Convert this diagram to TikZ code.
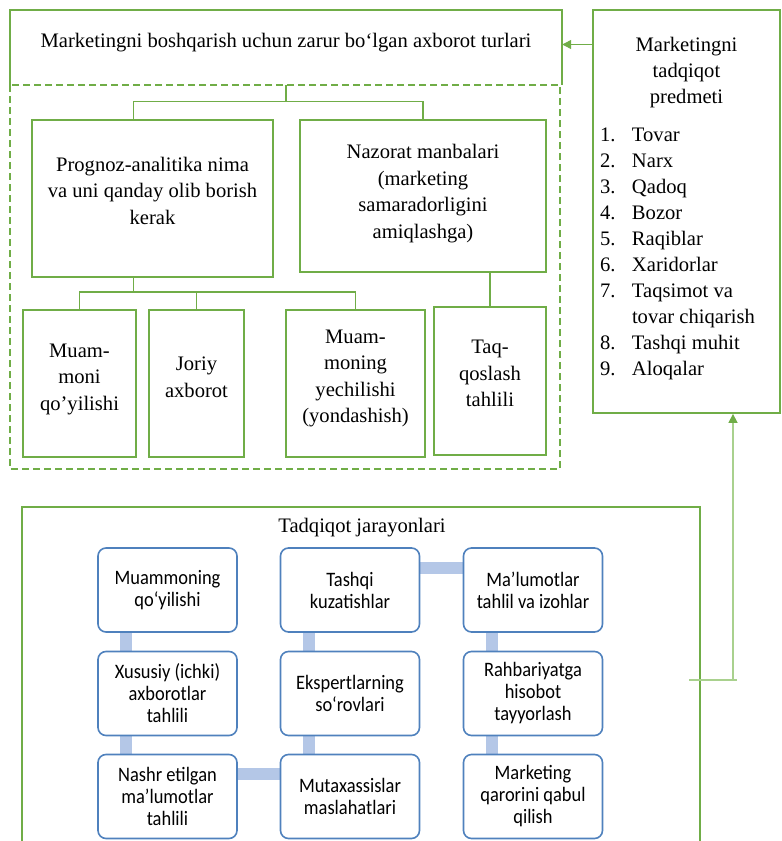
\documentclass[tikz,border=0pt]{standalone}
\usepackage{fontspec}
\setmainfont{Liberation Serif}
\newfontfamily\serfont{Liberation Serif}
\newfontfamily\calfont[FakeStretch=0.9]{Carlito}
\usetikzlibrary{arrows.meta,calc}
\pgfdeclarelayer{bg}
\pgfsetlayers{bg,main}
\definecolor{gr}{HTML}{70AD47}
\definecolor{lgr}{HTML}{A9D18E}
\definecolor{bb}{HTML}{4F81BD}
\definecolor{lb}{HTML}{B4C7E7}
\newcommand\upby[2]{\raisebox{#1}[\height][\depth]{\begin{tabular}{@{}c@{}}#2\end{tabular}}}
\begin{document}
\begin{tikzpicture}[x=1pt,y=-1pt,
  gbox/.style={draw=gr, line width=1.8pt, inner sep=0pt, fill=white},
  tfont/.style={font=\serfont\fontsize{20.6}{26.5}\selectfont},
  bbox/.style={draw=bb, line width=1.6pt, rounded corners=8pt, minimum width=139pt, minimum height=84pt, inner sep=0pt, align=center, font=\calfont\fontsize{20.5}{22}\selectfont, fill=white},
  gline/.style={draw=gr, line width=1.2pt},
  bline/.style={draw=lb, line width=12pt},
]
\useasboundingbox (0,0) rectangle (782,841);

% top box
\node[tfont, inner sep=0pt, minimum width=552pt, minimum height=75pt] (top) at (286,47.5) {\upby{5pt}{Marketingni boshqarish uchun zarur bo‘lgan axborot turlari}};
\draw[gr, line width=1.8pt] (top.south west) |- (top.north east) -- (top.south east);
\draw[gr, line width=1.8pt, dash pattern=on 7pt off 4pt] (10,85) rectangle (560,469);

% second level
\node[gbox, tfont, minimum width=241pt, minimum height=157pt] (prog) at (152.5,198.5) {\upby{6pt}{Prognoz-analitika nima\\va uni qanday olib borish\\kerak}};
\node[gbox, tfont, minimum width=246pt, minimum height=152pt] (naz) at (423,196) {\upby{3pt}{Nazorat manbalari\\(marketing\\samaradorligini\\amiqlashga)}};

% third level
\node[gbox, tfont, minimum width=113pt, minimum height=147pt] (b1) at (79.5,383.5) {\upby{5pt}{Muam-\\moni\\qo’yilishi}};
\node[gbox, tfont, minimum width=95pt, minimum height=147pt] (b2) at (196.5,383.5) {\upby{5pt}{Joriy\\axborot}};
\node[gbox, tfont, minimum width=139pt, minimum height=147pt] (b3) at (355.5,383.5) {\upby{6pt}{Muam-\\moning\\yechilishi\\(yondashish)}};
\node[gbox, tfont, minimum width=112pt, minimum height=148pt] (b4) at (490,381) {\upby{6pt}{Taq-\\qoslash\\tahlili}};

% connectors
\coordinate (pj) at ($(prog.north west)+(102,0)$);
\draw[gline] (top.south) -- ++(0,16) coordinate (j1) -| (pj);
\draw[gline] (j1) -| (naz.north);
\coordinate (pb) at ($(prog.south west)+(102,0)$);
\draw[gline] (pb) -- ++(0,14) coordinate (j2) -| (b1.north);
\draw[gline] (j2) -| (b2.north);
\draw[gline] (j2) -| (b3.north);
\draw[gline] (naz.south -| b4.north) -- (b4.north);

% right box
\node[gbox, minimum width=187pt, minimum height=403pt, font=\serfont\fontsize{20.6}{26}\selectfont] (pred) at (686.5,211.5) {\raisebox{3pt}[\height][\depth]{\begin{minipage}{173pt}
\centering Marketingni\\tadqiqot\\predmeti\par
\vspace{12pt}
\raggedright
\makebox[32pt][l]{1.}Tovar\\
\makebox[32pt][l]{2.}Narx\\
\makebox[32pt][l]{3.}Qadoq\\
\makebox[32pt][l]{4.}Bozor\\
\makebox[32pt][l]{5.}Raqiblar\\
\makebox[32pt][l]{6.}Xaridorlar\\
\makebox[32pt][l]{7.}Taqsimot va\\
\hspace*{32pt}tovar chiqarish\\
\makebox[32pt][l]{8.}Tashqi muhit\\
\makebox[32pt][l]{9.}Aloqalar
\end{minipage}}};

\coordinate (ar) at ($(top.east)+(0,-3)$);
\draw[gr, line width=1.2pt, -{Triangle[length=9pt,width=9pt]}] (pred.west |- ar) -- (ar);

% bottom frame
\draw[gr, line width=1.8pt] (22,845) |- (700,507) -- (700,845);
\node[tfont] (proc) at (362,528) {Tadqiqot jarayonlari};

% process boxes
\node[bbox] (a1) at (167.5,590) {Muammoning\\qo‘yilishi};
\node[bbox] (a2) at (167.5,693.5) {Xususiy (ichki)\\axborotlar\\tahlili};
\node[bbox] (a3) at (167.5,796.5) {Nashr etilgan\\ma’lumotlar\\tahlili};
\node[bbox] (c1) at (350,590) {Tashqi\\kuzatishlar};
\node[bbox] (c2) at (350,693.5) {Ekspertlarning\\so‘rovlari};
\node[bbox] (c3) at (350,796.5) {Mutaxassislar\\maslahatlari};
\node[bbox] (d1) at (533,590) {Ma’lumotlar\\tahlil va izohlar};
\node[bbox] (d2) at (533,693.5) {Rahbariyatga\\hisobot\\tayyorlash};
\node[bbox] (d3) at (533,796.5) {Marketing\\qarorini qabul\\qilish};

\begin{pgfonlayer}{bg}
\draw[bline] ($(a1.south west)+(29,0)$) -- ($(a2.north west)+(29,0)$);
\draw[bline] ($(a2.south west)+(29,0)$) -- ($(a3.north west)+(29,0)$);
\draw[bline] ($(c1.south west)+(29,0)$) -- ($(c2.north west)+(29,0)$);
\draw[bline] ($(c2.south west)+(29,0)$) -- ($(c3.north west)+(29,0)$);
\draw[bline] ($(d1.south west)+(29,0)$) -- ($(d2.north west)+(29,0)$);
\draw[bline] ($(d2.south west)+(29,0)$) -- ($(d3.north west)+(29,0)$);
\draw[bline] ($(c1.north east)+(0,21)$) -- ($(d1.north west)+(0,21)$);
\draw[bline] ($(a3.north east)+(0,20)$) -- ($(c3.north west)+(0,20)$);
\end{pgfonlayer}

% feedback arrow
\coordinate (tk) at (733,680);
\coordinate (tkL) at (689,680);
\coordinate (tkR) at (737,680);
\draw[lgr, line width=1.5pt] (tkL) -- (tkR);
\draw[lgr, line width=1.5pt, -{Triangle[length=9pt,width=9pt,color=gr]}] (tk) -- (tk |- pred.south);
\end{tikzpicture}
\end{document}
